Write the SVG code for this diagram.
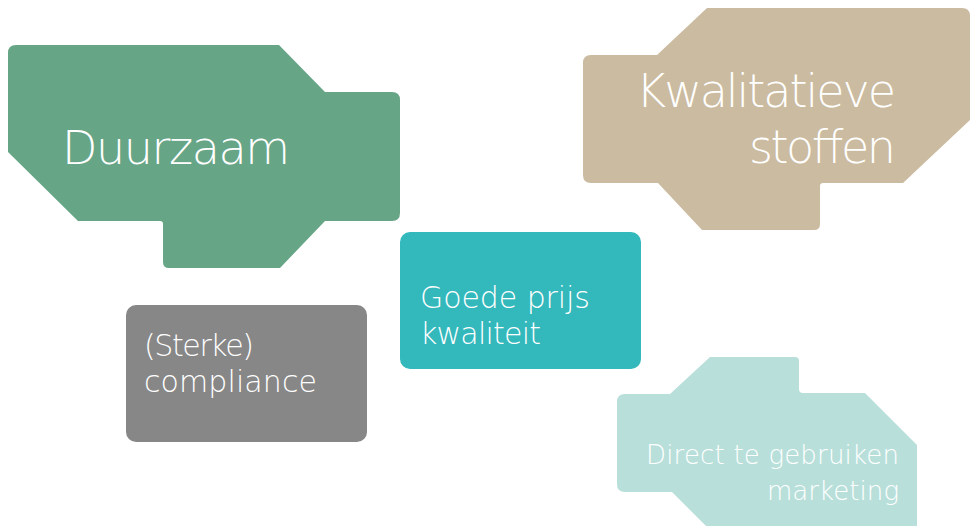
<svg xmlns="http://www.w3.org/2000/svg" width="972" height="526" viewBox="0 0 972 526">
<style>
text{font-family:"DejaVu Sans","Open Sans",sans-serif;font-weight:200;fill:#ffffff}
.big{font-size:46px}
.mid{font-size:30px}
.sm{font-size:26px}
</style>
<rect width="972" height="526" fill="#ffffff"/>
<g id="duurzaam">
<path d="M16,45 L279,45 L325,92 L392,92 Q400,92 400,100 L400,213 Q400,221 392,221 L325,221 L280,268 L169,268 Q163,268 163,262 L163,224 Q163,221 160,221 L78,221 L8,152 L8,53 Q8,45 16,45 Z" fill="#67a587"/>
<text class="big" x="62" y="164" textLength="228" lengthAdjust="spacing">Duurzaam</text>
</g>
<g id="kwalitatieve">
<path d="M707,8 L962,8 Q970,8 970,16 L970,120 L903,183 L823,183 Q820,183 820,186 L820,224 Q820,230 814,230 L702,230 L658,183 L591,183 Q583,183 583,175 L583,63 Q583,55 591,55 L657,55 Z" fill="#cbbba0"/>
<text class="big" x="636" y="107" textLength="260" lengthAdjust="spacing">Kwalitatieve</text>
<text class="big" x="749" y="163" textLength="147" lengthAdjust="spacing">stoffen</text>
</g>
<g id="goede">
<rect x="400" y="232" width="241" height="137" rx="10" fill="#33b8bc"/>
<text class="mid" x="420" y="308" textLength="170" lengthAdjust="spacing">Goede prijs</text>
<text class="mid" x="420" y="344" textLength="121" lengthAdjust="spacing">kwaliteit</text>
</g>
<g id="compliance">
<rect x="126" y="305" width="241" height="137" rx="10" fill="#878787"/>
<text class="mid" x="144" y="356" textLength="110" lengthAdjust="spacing">(Sterke)</text>
<text class="mid" x="144" y="392" textLength="173" lengthAdjust="spacing">compliance</text>
</g>
<g id="marketing">
<path d="M710,357 L795,357 Q799,357 799,361 L799,389 Q799,393 803,393 L865,393 L917,445 L917,540 L720,540 L672,492 L625,492 Q617,492 617,484 L617,402 Q617,394 625,394 L670,394 Z" fill="#b8dfda"/>
<text class="sm" x="646" y="464" textLength="253" lengthAdjust="spacing">Direct te gebruiken</text>
<text class="sm" x="767" y="500" textLength="132" lengthAdjust="spacing">marketing</text>
</g>
<g id="connectors"></g>
</svg>
